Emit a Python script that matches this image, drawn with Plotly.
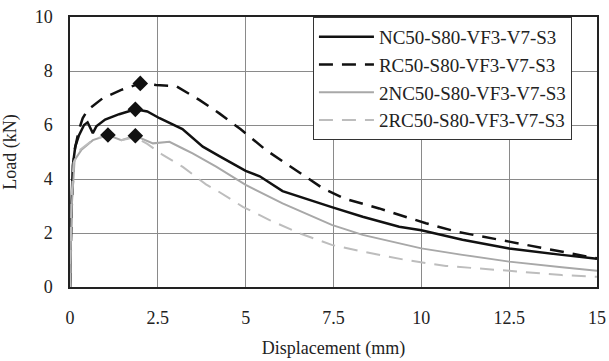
import plotly.graph_objects as go

# Data
nc_x = [0, 0.03, 0.08, 0.15, 0.25, 0.4, 0.5, 0.65, 0.75, 1.0, 1.4, 1.86, 2.2, 2.55, 3.2, 3.78, 4.25, 5.0, 5.4, 6.05, 7.45, 8.33, 9.37, 10.0, 11.17, 12.5, 14.0, 15.0]
nc_y = [0, 2.5, 4.5, 5.2, 5.6, 6.0, 6.1, 5.7, 5.95, 6.2, 6.4, 6.58, 6.5, 6.25, 5.85, 5.2, 4.85, 4.3, 4.1, 3.55, 2.96, 2.6, 2.23, 2.1, 1.75, 1.43, 1.19, 1.05]

rc_x = [0, 0.05, 0.12, 0.25, 0.36, 0.5, 0.93, 1.46, 2.0, 2.45, 3.02, 3.68, 4.25, 4.85, 5.58, 6.44, 7.19, 7.8, 8.8, 10.13, 11.0, 12.5, 14.0, 15.0]
rc_y = [0, 3.0, 5.0, 5.8, 6.25, 6.55, 6.99, 7.3, 7.54, 7.48, 7.44, 6.93, 6.43, 5.85, 5.07, 4.33, 3.66, 3.28, 2.91, 2.36, 2.05, 1.68, 1.31, 1.06]

nc2_x = [0, 0.05, 0.13, 0.32, 0.65, 1.08, 1.46, 1.86, 2.36, 2.83, 3.21, 3.49, 4.16, 5.0, 6.05, 7.45, 8.33, 10.0, 11.17, 12.5, 14.0, 15.0]
nc2_y = [0, 3.0, 4.7, 5.07, 5.44, 5.63, 5.44, 5.6, 5.32, 5.38, 5.13, 4.95, 4.46, 3.78, 3.1, 2.3, 1.93, 1.43, 1.19, 0.94, 0.73, 0.6]

rc2_x = [0, 0.04, 0.1, 0.3, 0.65, 1.08, 1.46, 1.86, 2.2, 2.45, 2.64, 3.21, 3.87, 4.16, 4.92, 5.68, 6.53, 7.45, 8.33, 9.56, 10.7, 12.5, 14.0, 15.0]
rc2_y = [0, 3.2, 4.6, 5.1, 5.45, 5.63, 5.44, 5.55, 5.3, 5.07, 4.89, 4.45, 3.8, 3.59, 2.97, 2.48, 1.99, 1.56, 1.31, 1.0, 0.78, 0.6, 0.44, 0.38]

peak_x = [1.86, 2.0, 1.08, 1.86]
peak_y = [6.58, 7.54, 5.63, 5.6]

names = ["NC50-S80-VF3-V7-S3", "RC50-S80-VF3-V7-S3", "2NC50-S80-VF3-V7-S3", "2RC50-S80-VF3-V7-S3"]
x_ticks = [0, 2.5, 5, 7.5, 10, 12.5, 15]
x_tick_labels = ["0", "2.5", "5", "7.5", "10", "12.5", "15"]
y_ticks = [0, 2, 4, 6, 8, 10]

FONT = "Liberation Serif"
TXT = "#222222"

fig = go.Figure()
fig.add_trace(go.Scatter(x=nc_x, y=nc_y, mode="lines", name=names[0],
                         line=dict(color="#111111", width=2.5)))
fig.add_trace(go.Scatter(x=rc_x, y=rc_y, mode="lines", name=names[1],
                         line=dict(color="#111111", width=2.5, dash="14px,9px")))
fig.add_trace(go.Scatter(x=nc2_x, y=nc2_y, mode="lines", name=names[2],
                         line=dict(color="#a8a8a8", width=2)))
fig.add_trace(go.Scatter(x=rc2_x, y=rc2_y, mode="lines", name=names[3],
                         line=dict(color="#bdbdbd", width=2, dash="14px,9px")))
fig.add_trace(go.Scatter(x=peak_x, y=peak_y, mode="markers", showlegend=False,
                         marker=dict(symbol="diamond", size=12, color="#111111")))

fig.update_layout(
    width=609, height=361,
    margin=dict(l=70, r=12, t=17, b=74, autoexpand=False),
    paper_bgcolor="white", plot_bgcolor="white",
    font=dict(family=FONT, size=17, color=TXT),
    legend=dict(x=0.461, y=1.0, xanchor="left", yanchor="top",
                bgcolor="white", bordercolor="#333333", borderwidth=1,
                font=dict(family=FONT, size=19, color=TXT),
                itemwidth=55, tracegroupgap=0),
    xaxis=dict(range=[0, 15], tickvals=x_ticks, ticktext=x_tick_labels,
               showgrid=True, gridcolor="#8a8a8a", gridwidth=1,
               showline=True, linecolor="#222222", linewidth=1.5, mirror=True,
               ticks="", ticklabelstandoff=14, zeroline=False, automargin=False,
               ticklabeloverflow="allow",
               tickfont=dict(family=FONT, size=18, color=TXT),
               title=dict(text="Displacement (mm)", standoff=14,
                          font=dict(family=FONT, size=18, color=TXT))),
    yaxis=dict(range=[0, 10], tickvals=y_ticks,
               showgrid=True, gridcolor="#8a8a8a", gridwidth=1,
               showline=True, linecolor="#222222", linewidth=1.5, mirror=True,
               ticks="", ticklabelstandoff=12, zeroline=False, automargin=False,
               ticklabeloverflow="allow",
               tickfont=dict(family=FONT, size=18, color=TXT),
               title=dict(text="Load (kN)", standoff=14,
                          font=dict(family=FONT, size=18, color=TXT))),
)

# remove the page's default body margin so the figure fills the window exactly
fig.write_html("out.html", config={"displayModeBar": False},
               post_script="document.body.style.margin='0';")
